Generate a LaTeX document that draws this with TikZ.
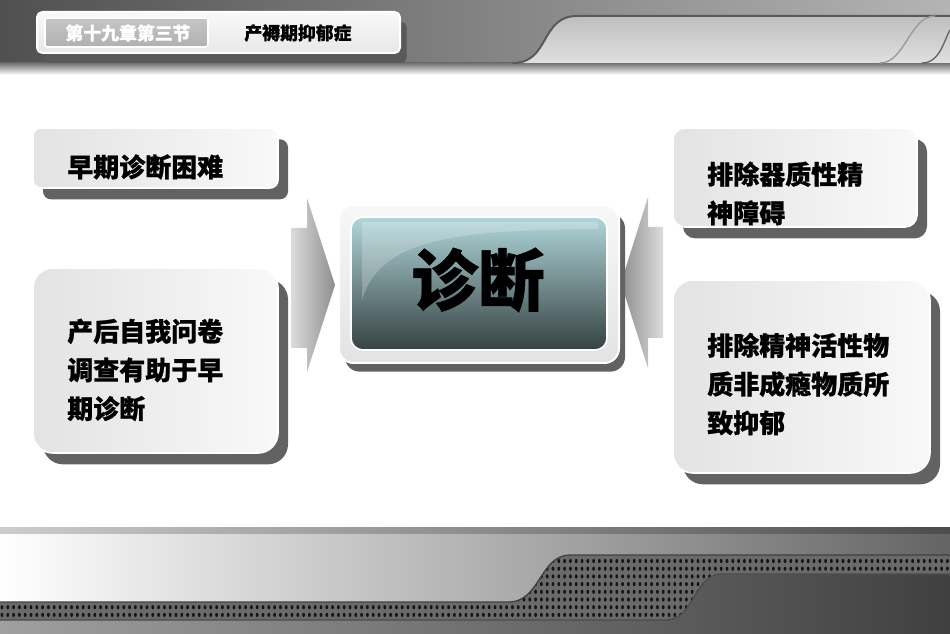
\documentclass[tikz,border=0pt]{standalone}
\usepackage{fontspec}
\usepackage{xcolor}
\usepackage{tikz}
\usetikzlibrary{shadows}
\newfontfamily\cjk[BoldFeatures={FakeBold=0.8}]{Noto Sans CJK SC}
\definecolor{band_dark}{HTML}{505050}
\definecolor{band_light}{HTML}{B4B4B4}
\definecolor{tab_top}{HTML}{BEBEBE}
\definecolor{tab_low}{HTML}{E0E0E0}
\definecolor{panel_mid}{HTML}{AAAAAA}
\definecolor{panel_dark}{HTML}{646464}
\definecolor{perf_gray}{HTML}{6A6A6A}
\definecolor{hole_dark}{HTML}{141414}
\definecolor{shadow_gray}{HTML}{626262}
\definecolor{core_top}{HTML}{B0D6DA}
\definecolor{core_low}{HTML}{364242}
\definecolor{arrow_light}{HTML}{DCDCDC}
\definecolor{arrow_dark}{HTML}{8E8E8E}

\begin{document}
\begin{tikzpicture}[
                x=0.75pt,
                y=-0.75pt,
                line cap=round,
                line join=round,
                box/.style={draw=white, line width=1.2pt, inner sep=0pt,
                    left color=gray!22, right color=gray!5,
                    general shadow={fill=shadow_gray, shadow xshift=7.5pt, shadow yshift=-8.5pt}},
                label/.style={anchor=west, align=left, inner sep=0pt,
                    font=\cjk\bfseries\fontsize{19.5}{29}\selectfont},
            ]
            \useasboundingbox (0,0) rectangle (950,634);

            % Top metal band
            \shade[left color=band_dark, right color=band_light] (0,0) rectangle (950,63);
            \shade[top color=black!55, bottom color=white] (0,63) rectangle (950,75);
            % Lighter tab on the right of the band
            \shade[top color=tab_top, bottom color=tab_low] (513,63) .. controls (550,63) and (540,16) .. (577,16) -- (950,16) -- (950,63) -- cycle;
            \draw[black!65, line width=1.5] (513,63) .. controls (550,63) and (540,16) .. (577,16) -- (950,16);
            \draw[black!40, line width=1] (880,63) .. controls (905,63) and (910,16) .. (935,16);
            \draw[black!60, line width=1] (922,63) .. controls (940,63) and (944,40) .. (950,30);

            % Title plate
            \node[draw=white, line width=1.5pt, rounded corners=4pt, inner sep=0pt,
                top color=gray!5, bottom color=gray!18,
                minimum width=272.25pt, minimum height=30.75pt,
                general shadow={fill=black!65, shadow xshift=5pt, shadow yshift=-7.5pt}] (titlebar) at (218.5,32.5) {};
            \node[draw=white, line width=1.2pt, rounded corners=2pt, inner sep=0pt,
                top color=gray!45, bottom color=gray!62,
                minimum width=122.25pt, minimum height=21.75pt] (chapter) at (126.5,32.5) {};
            \node[inner sep=0pt, text=white, font=\cjk\bfseries\fontsize{13.4}{16}\selectfont] (chaptertext) at (128,33) {第十九章第三节};
            \node[inner sep=0pt, font=\cjk\bfseries\fontsize{13.4}{16}\selectfont] (topic) at (298,33) {产褥期抑郁症};

            % Bottom metal band
            \shade[left color=gray!75, right color=black!75] (0,527) rectangle (950,634);
            % Perforated strip
            \begin{scope}
                \clip (0,602) -- (509,602) .. controls (540,602) and (540,555) .. (570,555) -- (950,555) -- (950,574) -- (721,574) .. controls (695,574) and (693,620) .. (667,620) -- (0,620) -- cycle;
                \fill[perf_gray] (0,550) rectangle (950,625);
                \foreach \y in {561,568.7,...,617}
                    \foreach \x in {2,7.8,...,950}
                        \fill[hole_dark] (\x,\y) ellipse [x radius=1.4, y radius=2.1];
            \end{scope}
            \draw[black!70, line width=1] (950,574) -- (721,574) .. controls (695,574) and (693,620) .. (667,620) -- (0,620);
            % Light panel over the strip
            \shade[left color=white, middle color=panel_mid, right color=panel_dark] (0,532) -- (950,532) -- (950,555) -- (570,555) .. controls (540,555) and (540,602) .. (509,602) -- (0,602) -- cycle;
            \draw[black!75, line width=1] (950,555) -- (570,555) .. controls (540,555) and (540,602) .. (509,602) -- (0,602);
            % Thin rail on top
            \shade[left color=gray!40, right color=black!70] (0,527) rectangle (950,533);

            % Left column
            \node[box, rounded corners=6pt, minimum width=183.75pt, minimum height=45pt] (early) at (155.5,158) {};
            \node[label] (earlytext) at (67,167) {早期诊断困难};
            \node[box, rounded corners=15pt, minimum width=183.75pt, minimum height=138.75pt] (survey) at (155.5,360.5) {};
            \node[label] (surveytext) at (67,370) {产后自我问卷\\调查有助于早\\期诊断};

            % Right column
            \node[box, rounded corners=9pt, minimum width=183pt, minimum height=74.25pt] (organic) at (795,177.5) {};
            \node[label] (organictext) at (707,193.5) {排除器质性精\\神障碍};
            \node[box, rounded corners=15pt, minimum width=192.75pt, minimum height=144.75pt] (substance) at (801.5,376.5) {};
            \node[label] (substancetext) at (707,384) {排除精神活性物\\质非成瘾物质所\\致抑郁};

            % Block arrows pointing to the centre
            \shade[left color=arrow_light, right color=arrow_dark] (291,228) -- (307,228) -- (307,198) -- (335,285) -- (307,372) -- (307,348) -- (291,348) -- cycle;
            \shade[left color=arrow_dark, right color=arrow_light] (663,227) -- (648,227) -- (648,197) -- (621,283) -- (648,368) -- (648,338) -- (663,338) -- cycle;

            % Centre button
            \node[draw=white, line width=1.5pt, rounded corners=11pt, inner sep=0pt,
                top color=gray!6, bottom color=gray!22,
                minimum width=210pt, minimum height=118.5pt,
                general shadow={fill=shadow_gray, shadow xshift=4.5pt, shadow yshift=-6.5pt}] (frame) at (479,284) {};
            \node[draw=white, line width=1.2pt, rounded corners=9pt, inner sep=0pt,
                top color=core_top, bottom color=core_low,
                minimum width=192pt, minimum height=99.75pt] (core) at (479,283.5) {};
            \fill[white, opacity=0.22] (362,222) -- (598,222) -- (598,229) .. controls (450,230) and (380,240) .. (362,300) -- cycle;
            \node[inner sep=0pt, font=\cjk\bfseries\fontsize{50}{60}\selectfont] (diagnosis) at (478,280) {诊断};
        \end{tikzpicture}
\end{document}
